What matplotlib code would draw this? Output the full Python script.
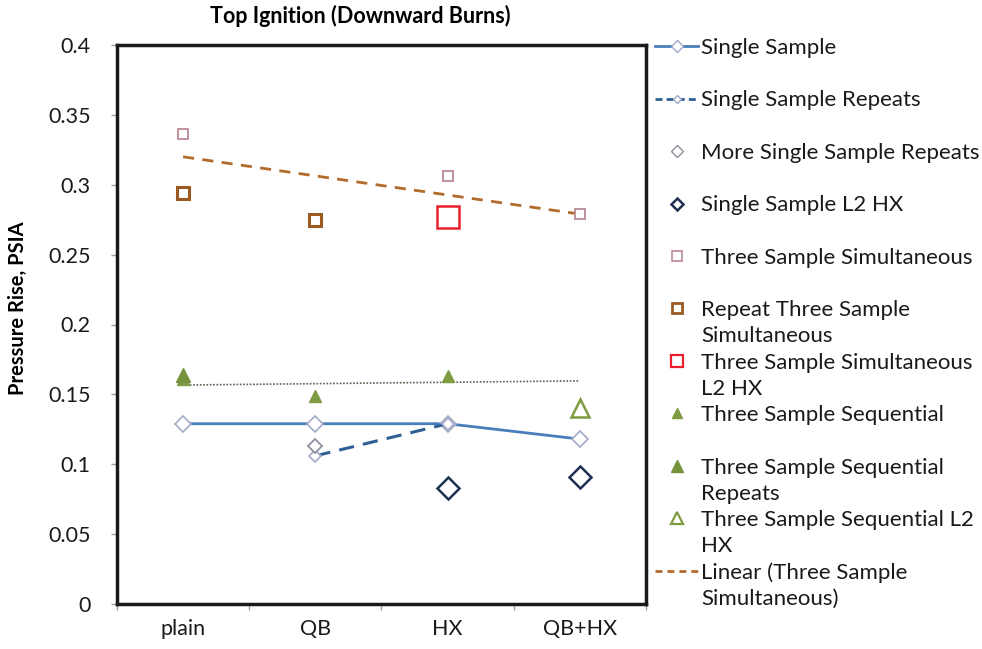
import numpy as np
import matplotlib
matplotlib.use("Agg")
import matplotlib.pyplot as plt
from matplotlib.lines import Line2D

plt.rcParams['font.family'] = ['Lato', 'DejaVu Sans']

# categories on the x axis
categories = ['plain', 'QB', 'HX', 'QB+HX']

# values (None = no point)
single_sample = [0.129, 0.129, 0.129, 0.118]
single_repeats = [None, 0.106, 0.129, None]
more_single_repeats = [None, 0.113, None, None]
single_l2hx = [None, None, 0.083, 0.091]
three_sim = [0.336, None, 0.306, 0.279]
repeat_three_sim = [0.294, 0.275, None, None]
three_sim_l2hx = [None, None, 0.277, None]
three_seq = [0.161, 0.149, 0.163, None]
three_seq_repeats = [0.164, None, None, None]
three_seq_l2hx = [None, None, None, 0.140]
trend_sim = [0.320, 0.279]


def xy(values):
    x = [i for i, v in enumerate(values) if v is not None]
    y = [v for v in values if v is not None]
    return np.array(x), np.array(y)


fig = plt.figure(figsize=(9.82, 6.49), dpi=100)
ax = fig.add_axes([117 / 982, 45 / 649, 529 / 982, 559 / 649])

# Single Sample
x, y = xy(single_sample)
ax.plot(x, y, color='#4a7ebb', lw=2, marker='D', ms=8.5, mfc='white',
        mec='#a3aac9', mew=1.2, zorder=4)
# Single Sample Repeats
x, y = xy(single_repeats)
ax.plot(x, y, color='#2f5f94', lw=2.2, ls=(0, (5, 3)), marker='D', ms=6,
        mfc='white', mec='#a3aac9', mew=1.2, zorder=4)
# More Single Sample Repeats
x, y = xy(more_single_repeats)
ax.plot(x, y, ls='none', marker='D', ms=7.5, mfc='white', mec='#8e8e9e',
        mew=1.3, zorder=5)
# Single Sample L2 HX
x, y = xy(single_l2hx)
ax.plot(x, y, ls='none', marker='D', ms=11.5, mfc='white', mec='#1f2f52',
        mew=1.8, zorder=5)
# Three Sample Simultaneous
x, y = xy(three_sim)
ax.plot(x, y, ls='none', marker='s', ms=7.5, mfc='white', mec='#b98b93',
        mew=1.3, zorder=5)
# Repeat Three Sample Simultaneous
x, y = xy(repeat_three_sim)
ax.plot(x, y, ls='none', marker='s', ms=8, mfc='white', mec='#9a5a22',
        mew=2.2, zorder=5)
# Three Sample Simultaneous L2 HX
x, y = xy(three_sim_l2hx)
ax.plot(x, y, ls='none', marker='s', ms=16, mfc='white', mec='#e8202e',
        mew=1.8, zorder=5)
# Three Sample Sequential
x, y = xy(three_seq)
ax.plot(x, y, ls='none', marker='^', ms=8, mfc='#7e9c42', mec='#7e9c42',
        zorder=5)
# Three Sample Sequential Repeats
x, y = xy(three_seq_repeats)
ax.plot(x, y, ls='none', marker='^', ms=10.5, mfc='#76923c', mec='#76923c',
        zorder=5)
# Three Sample Sequential L2 HX
x, y = xy(three_seq_l2hx)
ax.plot(x, y, ls='none', marker='^', ms=13.5, mfc='white', mec='#7e9c42',
        mew=1.8, zorder=5)

# trendline of Three Sample Simultaneous
ax.plot([0, 3], trend_sim, color='#b36b2c', lw=2, ls=(0, (4, 3)), zorder=3)
# unlabelled dotted trendline of Three Sample Sequential
x, y = xy(three_seq)
coef = np.polyfit(x + 1, y, 1)
xt = np.array([0, 3])
ax.plot(xt, np.polyval(coef, xt + 1), color='#5f6050', lw=1.2,
        ls=(0, (1, 1)), zorder=3)

ax.set_xlim(-0.5, 3.5)
ax.set_ylim(0, 0.4)
ax.set_yticks(np.arange(0, 0.41, 0.05))
ax.set_yticklabels(['0', '0.05', '0.1', '0.15', '0.2', '0.25', '0.3', '0.35', '0.4'])
ax.set_xticks(np.arange(-0.5, 3.6, 1))
ax.set_xticklabels([])
ax.set_xticks(range(len(categories)), minor=True)
ax.set_xticklabels(categories, minor=True)
ax.tick_params(axis='x', which='minor', length=0, pad=11, labelsize=15.5,
               labelcolor='#1a1a1a')
ax.tick_params(axis='x', which='major', length=4, color='#a0a0a0', width=1)
ax.tick_params(axis='y', length=4, color='#a0a0a0', width=1, pad=15,
               labelsize=15.5, labelcolor='#1a1a1a')
for sp in ax.spines.values():
    sp.set_linewidth(2.5)
    sp.set_color('#1a1a1a')

fig.text(210 / 982, 1 - 16 / 649, 'Top Ignition (Downward Burns)',
         ha='left', va='center', fontsize=15.5, fontweight='bold')
fig.text(18 / 982, 1 - 308 / 649, 'Pressure Rise, PSIA', rotation=90,
         ha='center', va='center', fontsize=14.5, fontweight='bold')

# legend: two text rows per entry, like the Excel one
blank = Line2D([], [], ls='none')
entries = [
    (Line2D([], [], color='#4a7ebb', lw=2, marker='D', ms=6, mfc='white',
            mec='#a3aac9'), 'Single Sample', ' '),
    (Line2D([], [], color='#2f5f94', lw=2, ls=(0, (2.5, 1.5)), marker='D',
            ms=4.5, mfc='white', mec='#a3aac9'), 'Single Sample Repeats', ' '),
    (Line2D([], [], ls='none', marker='D', ms=6.5, mfc='white', mec='#8e8e9e'),
     'More Single Sample Repeats', ' '),
    (Line2D([], [], ls='none', marker='D', ms=6.5, mfc='white', mec='#1f2f52',
            mew=1.8), 'Single Sample L2 HX', ' '),
    (Line2D([], [], ls='none', marker='s', ms=7, mfc='white', mec='#b98b93',
            mew=1.2), 'Three Sample Simultaneous', ' '),
    (Line2D([], [], ls='none', marker='s', ms=7, mfc='white', mec='#9a5a22',
            mew=2), 'Repeat Three Sample', 'Simultaneous'),
    (Line2D([], [], ls='none', marker='s', ms=9, mfc='white', mec='#e8202e',
            mew=1.6), 'Three Sample Simultaneous', 'L2 HX'),
    (Line2D([], [], ls='none', marker='^', ms=6.5, mfc='#7e9c42', mec='#7e9c42'),
     'Three Sample Sequential', ' '),
    (Line2D([], [], ls='none', marker='^', ms=8, mfc='#76923c', mec='#76923c'),
     'Three Sample Sequential', 'Repeats'),
    (Line2D([], [], ls='none', marker='^', ms=9, mfc='white', mec='#7e9c42',
            mew=1.6), 'Three Sample Sequential L2', 'HX'),
    (Line2D([], [], color='#b36b2c', lw=2, ls=(0, (2.5, 1.8))),
     'Linear (Three Sample', 'Simultaneous)'),
]
handles, labels = [], []
for h, first, second in entries:
    handles += [h, blank]
    labels += [first, second]
fig.legend(handles, labels, loc='upper left',
           bbox_to_anchor=(655 / 982, 1 - 38 / 649), frameon=False,
           fontsize=16, labelspacing=0.28, handlelength=1.95,
           handletextpad=0.12, borderpad=0, borderaxespad=0,
           labelcolor='#1a1a1a')

fig.savefig('out.png', dpi=100)
